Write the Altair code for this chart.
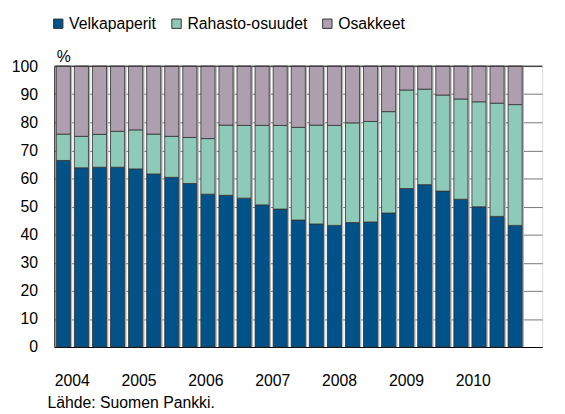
import altair as alt
import pandas as pd

series = ["Velkapaperit", "Rahasto-osuudet", "Osakkeet"]
colors = ["#005289", "#8dcab7", "#ad9fad"]

# Quarterly shares 2004Q1 - 2010Q2 (%)
velka = [66.4, 63.8, 64.0, 64.0, 63.4, 61.6, 60.4, 58.2, 54.4, 54.0, 53.0, 50.6, 49.1,
         45.2, 43.8, 43.3, 44.3, 44.5, 47.7, 56.4, 57.8, 55.5, 52.6, 49.9, 46.5, 43.3]
# cumulative top of the fund-share segment
velka_plus_rahasto = [75.8, 75.0, 75.7, 76.8, 77.3, 75.8, 75.0, 74.6, 74.2, 79.0, 78.9, 78.9, 78.9,
                      78.2, 79.0, 78.9, 79.8, 80.3, 83.8, 91.5, 91.8, 89.7, 88.3, 87.3, 86.8, 86.3]
years = ["2004", "2005", "2006", "2007", "2008", "2009", "2010"]

rows = []
for i, (v, vr) in enumerate(zip(velka, velka_plus_rahasto)):
    vals = [v, vr - v, 100 - vr]
    base = 0.0
    for k, (s, val) in enumerate(zip(series, vals)):
        rows.append({"i": i, "x0": i + 0.11, "x1": i + 0.89, "sx0": i + 0.11, "sx1": i + 0.99,
                     "series": s, "value": val, "y0": base, "y1": base + val, "ord": k})
        base += val
df = pd.DataFrame(rows)

year_ticks = [0.96 + 3.7 * k for k in range(len(years))]

xscale = alt.Scale(domain=[0, 27], nice=False, zero=False)
yscale = alt.Scale(domain=[0, 100], nice=False)

xaxis = alt.Axis(values=year_ticks, labelExpr="'' + (2004 + round((datum.value - 0.96) / 3.7))",
                 grid=False, ticks=False, domain=True, domainColor="#000", domainWidth=1,
                 labelFontSize=16, labelFont="Liberation Sans", labelColor="#000",
                 labelPadding=26, title=None)
yaxis = alt.Axis(values=list(range(0, 101, 10)), grid=True, gridColor="#777", gridWidth=1,
                 ticks=False, domain=True, domainColor="#000", domainWidth=1,
                 labelFontSize=16, labelFont="Liberation Sans", labelColor="#000",
                 labelPadding=17, title="%", titleAngle=0, titleX=2, titleY=-2,
                 titleAlign="left", titleBaseline="bottom", titleFontSize=16,
                 titleFont="Liberation Sans", titleFontWeight="normal", titleColor="#000")

shadow = alt.Chart(df).mark_bar(color="#b5b5b5").encode(
    x=alt.X("sx0:Q", scale=xscale, axis=xaxis),
    x2="sx1:Q",
    y=alt.Y("y0:Q", scale=yscale, axis=yaxis),
    y2=alt.Y2("y1:Q"),
)

bars = alt.Chart(df).mark_bar(stroke="#333", strokeWidth=0.8).encode(
    x=alt.X("x0:Q", scale=xscale, axis=xaxis),
    x2="x1:Q",
    y=alt.Y("y0:Q", scale=yscale, axis=yaxis),
    y2=alt.Y2("y1:Q"),
    color=alt.Color("series:N", scale=alt.Scale(domain=series, range=colors), sort=series,
                    legend=alt.Legend(title=None, orient="none", legendX=-4, legendY=-51,
                                      direction="horizontal", symbolType="square",
                                      symbolSize=90, symbolStrokeColor="#333",
                                      symbolStrokeWidth=1, labelFontSize=16,
                                      labelFont="Liberation Sans", labelColor="#000",
                                      columnPadding=12, symbolOffset=0, labelOffset=3)),
)

top = alt.Chart(pd.DataFrame({"y": [100]})).mark_rule(color="#222", strokeWidth=1).encode(
    y=alt.Y("y:Q", scale=yscale, axis=yaxis),
)

chart = alt.layer(shadow, bars, top).properties(
    width=495, height=285,
    padding={"left": 47, "top": 56, "right": 15, "bottom": 65},
    autosize=alt.AutoSizeParams(type="none"),
    title=alt.TitleParams("Lähde: Suomen Pankki.", orient="bottom", anchor="start",
                          frame="group", dx=-7, offset=7, fontSize=16, font="Liberation Sans",
                          fontWeight="normal", color="#000"),
).configure_view(stroke=None).configure(background="white")

chart.save("out.html", embed_options={"renderer": "svg", "actions": False})
